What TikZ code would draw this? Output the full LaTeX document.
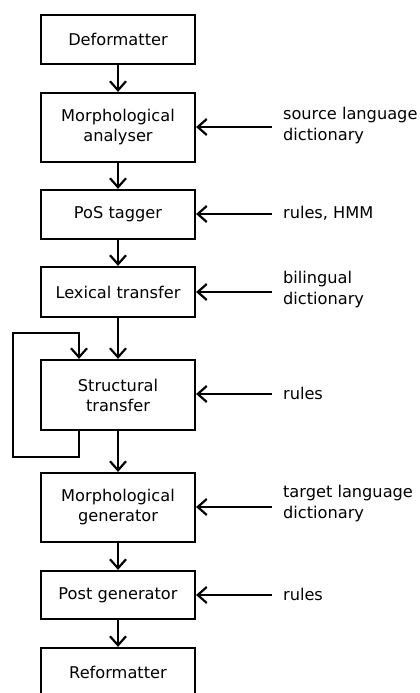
\documentclass[tikz,border=0pt]{standalone}
\usepackage{fontspec}
\setmainfont{DejaVu Sans}
\usetikzlibrary{arrows.meta}
\begin{document}
\begin{tikzpicture}[x=1pt,y=1pt,
  line width=2.2pt,
  box/.style={draw, minimum width=154pt, inner sep=2pt, align=center, font=\fontsize{16.2}{20}\selectfont},
  lbl/.style={anchor=west, inner sep=0pt, align=left, font=\fontsize{16.2}{21}\selectfont},
  arr/.style={-{Straight Barb[length=9pt,width=16pt,line width=2.2pt]}},
  line join=miter]
\useasboundingbox (0,0) rectangle (420,-693);
\clip (0,0) rectangle (420,-693);
\node[box, minimum height=49pt] (def) at (118,-39.5) {Deformatter};
\node[box, minimum height=69pt] (ma) at (118,-127.5) {Morphological\\analyser};
\node[box, minimum height=49pt] (pos) at (118,-214.5) {PoS tagger};
\node[box, minimum height=50pt] (lex) at (118,-292) {Lexical transfer};
\node[box, minimum height=70pt] (st) at (118,-395) {Structural\\transfer};
\node[box, minimum height=69pt] (mg) at (118,-507.5) {Morphological\\generator};
\node[box, minimum height=48pt] (pg) at (118,-595) {Post generator};
\node[box, minimum height=49pt] (rf) at (118,-672.5) {Reformatter};
\draw[arr] (def) -- (ma);
\draw[arr] (ma) -- (pos);
\draw[arr] (pos) -- (lex);
\draw[arr] (lex) -- (st);
\draw[arr] (st) -- (mg);
\draw[arr] (mg) -- (pg);
\draw[arr] (pg) -- (rf);
% loop
\coordinate (l1) at (79,-457);
\coordinate (l2) at (13,-457);
\coordinate (l3) at (13,-333);
\coordinate (l4) at (79,-333);
\draw[arr] (st.south -| l1) -- (l1) -- (l2) -- (l3) -- (l4) -- (st.north -| l4);
% inputs
\node[lbl] (t1) at (282,-126) {source language\\dictionary};
\node[lbl] (t2) at (282,-213) {rules, HMM};
\node[lbl] (t3) at (282,-290) {bilingual\\dictionary};
\node[lbl] (t4) at (282,-393) {rules};
\node[lbl] (t5) at (282,-504) {target language\\dictionary};
\node[lbl] (t6) at (282,-594) {rules};
\coordinate (s1) at (272,-127);
\coordinate (s2) at (272,-214);
\coordinate (s3) at (272,-292);
\coordinate (s4) at (272,-394);
\coordinate (s5) at (272,-507);
\coordinate (s6) at (272,-595);
\draw[arr] (s1) -- (ma.east |- s1);
\draw[arr] (s2) -- (pos.east |- s2);
\draw[arr] (s3) -- (lex.east |- s3);
\draw[arr] (s4) -- (st.east |- s4);
\draw[arr] (s5) -- (mg.east |- s5);
\draw[arr] (s6) -- (pg.east |- s6);
\end{tikzpicture}
\end{document}
